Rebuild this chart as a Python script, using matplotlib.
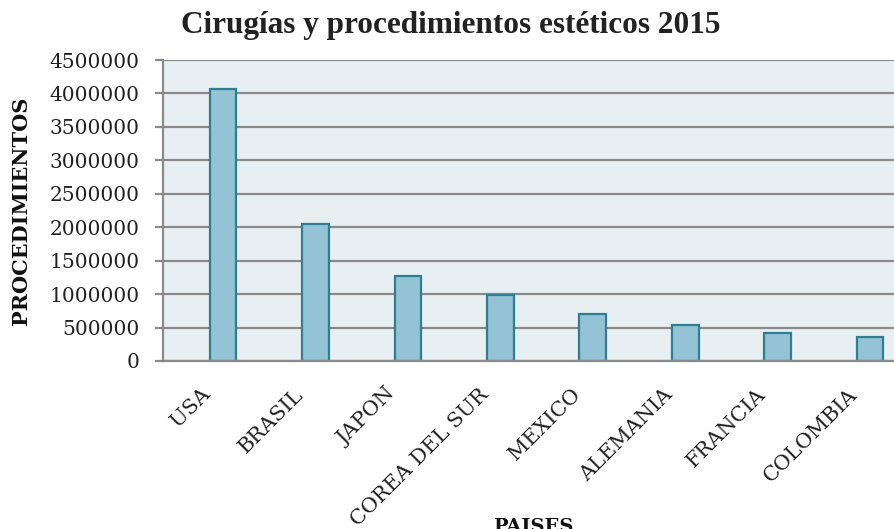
import matplotlib
matplotlib.use("Agg")
import matplotlib.pyplot as plt
from matplotlib.ticker import FixedLocator
import matplotlib.transforms as mtransforms

paises = ["USA", "BRASIL", "JAPON", "COREA DEL SUR", "MEXICO", "ALEMANIA", "FRANCIA", "COLOMBIA"]
procedimientos = [4064000, 2055000, 1265000, 990000, 705000, 540000, 425000, 365000]
yticks = [0, 500000, 1000000, 1500000, 2000000, 2500000, 3000000, 3500000, 4000000, 4500000]
titulo = "Cirugías y procedimientos estéticos 2015"
ylabel = "PROCEDIMIENTOS"
xlabel = "PAISES"

fig = plt.figure(figsize=(8.95, 5.29), dpi=100)
fig.patch.set_facecolor("white")
ax = fig.add_axes([163/895, 1-361/529, 1-163/895, (361-60)/529])
ax.set_facecolor("#E8EFF3")

x = list(range(len(paises)))
ax.bar(x, procedimientos, width=0.29, color="#93C3D5", edgecolor="#2F7F93", linewidth=1.6, zorder=3)

ax.set_ylim(0, 4500000)
ax.set_xlim(-0.65, 7.27)
ax.yaxis.set_major_locator(FixedLocator(yticks))
ax.set_yticklabels([str(v) for v in yticks], family="DejaVu Serif", fontsize=14.5, color="#222222")
ax.grid(axis="y", color="#8A8A8A", linewidth=1.6, zorder=1)
ax.tick_params(axis="y", length=6, width=1.6, color="#8A8A8A", pad=11)
ax.tick_params(axis="x", length=0, pad=4)
for s in ["top", "right"]:
    ax.spines[s].set_visible(False)
for s in ["left", "bottom"]:
    ax.spines[s].set_color("#8A8A8A")
    ax.spines[s].set_linewidth(1.6)
    ax.spines[s].set_zorder(4)

ax.set_xticks(x)
ax.set_xticklabels(paises, rotation=45, ha="right", va="top", rotation_mode="anchor",
                   family="DejaVu Serif", fontsize=15, color="#222222")
offset = mtransforms.ScaledTranslation(-22/100, -18/100, fig.dpi_scale_trans)
for lab in ax.get_xticklabels():
    lab.set_transform(lab.get_transform() + offset)

fig.text(451/895, 1-25/529, titulo, ha="center", va="center",
         family="Liberation Serif", fontweight="bold", fontsize=22.5, color="#222222")
fig.text(21/895, 1-211/529, ylabel, ha="center", va="center", rotation=90,
         family="DejaVu Serif", fontweight="bold", fontsize=15, color="#111111")
fig.text(533/895, 1-518/529, xlabel, ha="center", va="top",
         family="DejaVu Serif", fontweight="bold", fontsize=14, color="#111111")

fig.savefig("out.png", dpi=100)
